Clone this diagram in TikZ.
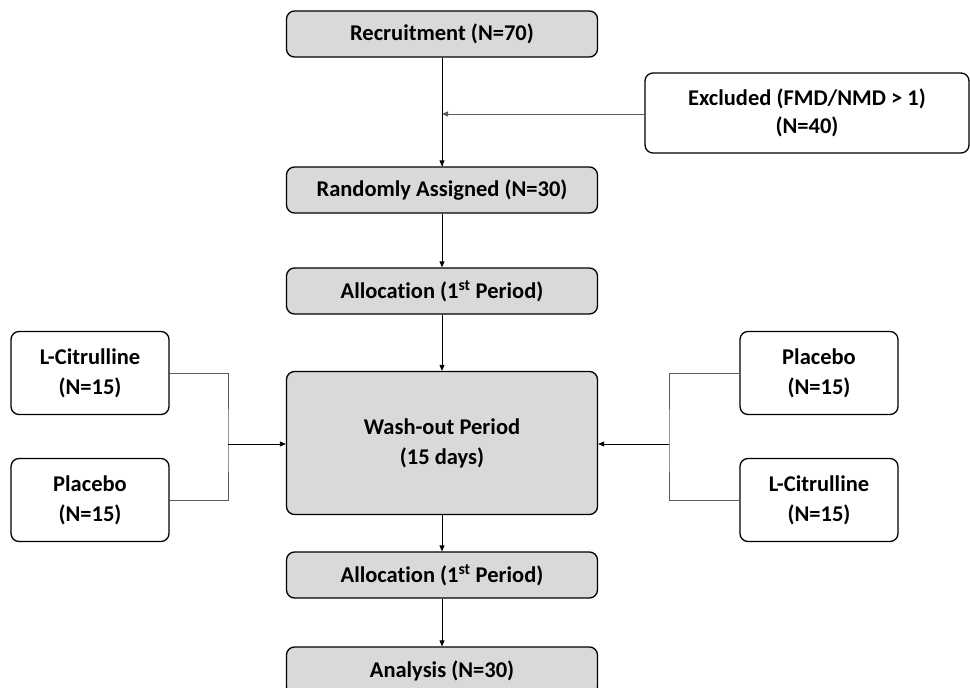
\documentclass[tikz,border=0pt]{standalone}
\usepackage{fontspec}
\setmainfont{Carlito}[Ligatures=NoCommon]
\definecolor{boxgray}{RGB}{217,217,217}
\definecolor{linegray}{RGB}{90,90,90}
\usetikzlibrary{arrows.meta,positioning}

\begin{document}
\begin{tikzpicture}[x=1pt, y=-1pt,
    every node/.style={font=\fontsize{22.5}{28}\selectfont\bfseries, align=center, line width=1.3pt, rounded corners=8pt},
    graybox/.style={draw, fill=boxgray, minimum width=311pt, minimum height=46pt},
    armbox/.style={draw, fill=white, minimum width=158pt, minimum height=83pt},
    flow/.style={-{Triangle[length=6pt,width=5pt]}, line width=0.8pt},
    side/.style={line width=0.8pt, draw=linegray}]
    \useasboundingbox (0,0) rectangle (970,688);

    % Main column
    \node[graybox] (recruit) at (442,34) {Recruitment (N=70)};
    \node[graybox] (random) at (442,190) {Randomly Assigned (N=30)};
    \node[graybox] (alloc1) at (442,291) {Allocation (1\textsuperscript{st} Period)};
    \node[graybox, minimum height=143pt] (washout) at (442,443) {Wash-out Period\\[2pt](15 days)};
    \node[graybox] (alloc2) at (442,575) {Allocation (1\textsuperscript{st} Period)};
    \node[graybox, minimum height=48pt] (analysis) at (442,671) {Analysis (N=30)};

    % Excluded
    \node[draw, fill=white, minimum width=324pt, minimum height=80pt] (excluded) at (807,113) {Excluded (FMD/NMD > 1)\\(N=40)};
    \coordinate (exjoin) at (442,114);

    % Arms
    \node[armbox] (citL) at (90,373) {L-Citrulline\\[2pt](N=15)};
    \node[armbox] (plaL) at (90,500) {Placebo\\[2pt](N=15)};
    \node[armbox] (plaR) at (819,373) {Placebo\\[2pt](N=15)};
    \node[armbox] (citR) at (819,500) {L-Citrulline\\[2pt](N=15)};
    \coordinate (joinL) at (228,444);
    \coordinate (joinR) at (669,444);

    % Connectors
    \draw[line width=0.8pt] (recruit) -- (random);
    \draw[flow, draw=linegray] (excluded.west |- exjoin) -- (exjoin);
    \draw[flow] (exjoin) -- (random.north);
    \draw[flow] (random) -- (alloc1);
    \draw[flow] (alloc1) -- (washout);
    \draw[flow] (washout) -- (alloc2);
    \draw[flow] (alloc2) -- (analysis);

    \draw[side] (citL.east) -| (joinL) |- (plaL.east);
    \draw[flow] (joinL) -- (washout.west |- joinL);
    \draw[side] (plaR.west) -| (joinR) |- (citR.west);
    \draw[flow] (joinR) -- (washout.east |- joinR);
\end{tikzpicture}
\end{document}
